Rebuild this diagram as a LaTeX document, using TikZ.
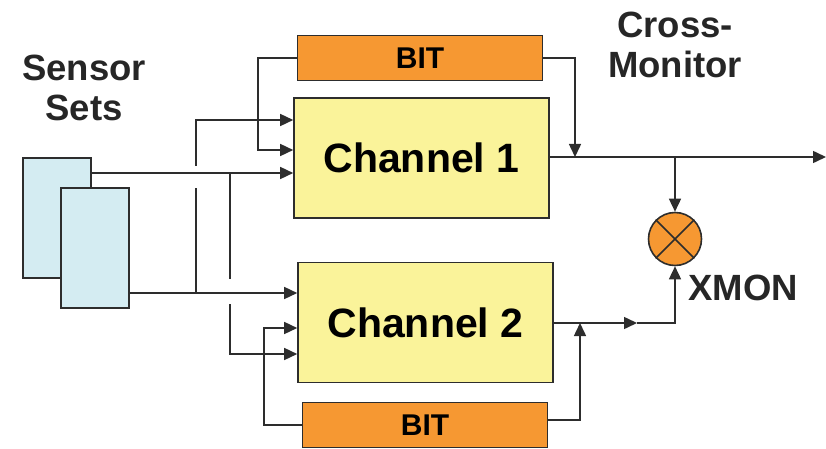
\documentclass[tikz,border=0pt]{standalone}
\usepackage{fontspec}
\setmainfont{Liberation Sans}
\usetikzlibrary{calc,arrows.meta}

\definecolor{sensblue}{RGB}{212,236,242}
\definecolor{chyellow}{RGB}{250,243,154}
\definecolor{bitorange}{RGB}{246,152,50}
\definecolor{edgegray}{RGB}{45,45,45}

\tikzset{
  box/.style={draw=edgegray,line width=1.6pt,inner sep=0pt,font=\bfseries},
  sensor/.style={box,fill=sensblue,minimum width=68pt,minimum height=120pt},
  channel/.style={box,fill=chyellow,minimum width=255pt,minimum height=120pt,font=\fontsize{41}{45}\selectfont\bfseries},
  bitbox/.style={box,fill=bitorange,minimum width=245pt,minimum height=45pt,font=\fontsize{30}{34}\selectfont\bfseries},
  title/.style={align=center,font=\fontsize{36.5}{40}\selectfont\bfseries,text=black!85},
  wire/.style={edgegray,line width=1.5pt}
}

\begin{document}
\begin{tikzpicture}[x=1pt,y=-1pt,>={Triangle[length=13pt,width=12pt]}]
\useasboundingbox (0,0) rectangle (826,449);
% sensors
\node[sensor] (sens1) at (57,218) {};
\node[sensor] (sens2) at (95,248) {};
\node[title] (senstxt) at (84,88) {Sensor\\Sets};
% channels and BIT
\node[bitbox] (bit1) at (420,58) {BIT};
\node[channel] (ch1) at (421.5,158) {Channel 1};
\node[channel] (ch2) at (425.5,322.5) {Channel 2};
\node[bitbox] (bit2) at (425,425) {BIT};
% cross monitor
\node[draw=edgegray,line width=1.6pt,circle,fill=bitorange,minimum size=53pt,inner sep=0pt] (xm) at (675,239) {};
\draw[wire] (xm.north west) -- (xm.south east) (xm.north east) -- (xm.south west);
\node[title] (crosstxt) at (675,45) {Cross-\\Monitor};
\node[title] (xmontxt) at (743,288) {XMON};

\coordinate (s1o) at (sens1.east |- 0,173);
\coordinate (s2o) at (sens2.east |- 0,293);
\coordinate (ja) at (196,120);
\coordinate (jb) at (230,354);
\coordinate (jc) at (258,150);
\coordinate (jd) at (264,328);
\coordinate (out) at (826,157);
\coordinate (mid) at (637,323);

% inputs
\draw[wire,->] (s1o) -- (s1o -| ch1.west);
\draw[wire,->] (s2o) -- (s2o -| ch2.west);
\draw[wire] (s2o -| ja) -- ($(s1o -| ja)+(0,15)$);
\draw[wire,->] ($(s1o -| ja)+(0,-7)$) -- (ja) -- (ja -| ch1.west);
\draw[wire] (s1o -| jb) -- ($(s2o -| jb)+(0,-14)$);
\draw[wire,->] ($(s2o -| jb)+(0,11)$) -- (jb) -- (jb -| ch2.west);
\draw[wire,->] (bit1.west) -| (jc) -- (jc -| ch1.west);
\draw[wire,->] (bit2.west) -| (jd) -- (jd -| ch2.west);

% outputs
\draw[wire,->] (ch1.east |- out) -- (out);
\draw[wire,->] (bit1.east) -| (575,157);
\draw[wire,->] (xm |- out) -- (xm.north);
\draw[wire,->] (ch2.east |- mid) -- (mid);
\draw[wire,->] (mid) -| (xm.south);
\draw[wire,->] (bit2.east |- 0,420) -| (580,323);
\end{tikzpicture}
\end{document}
